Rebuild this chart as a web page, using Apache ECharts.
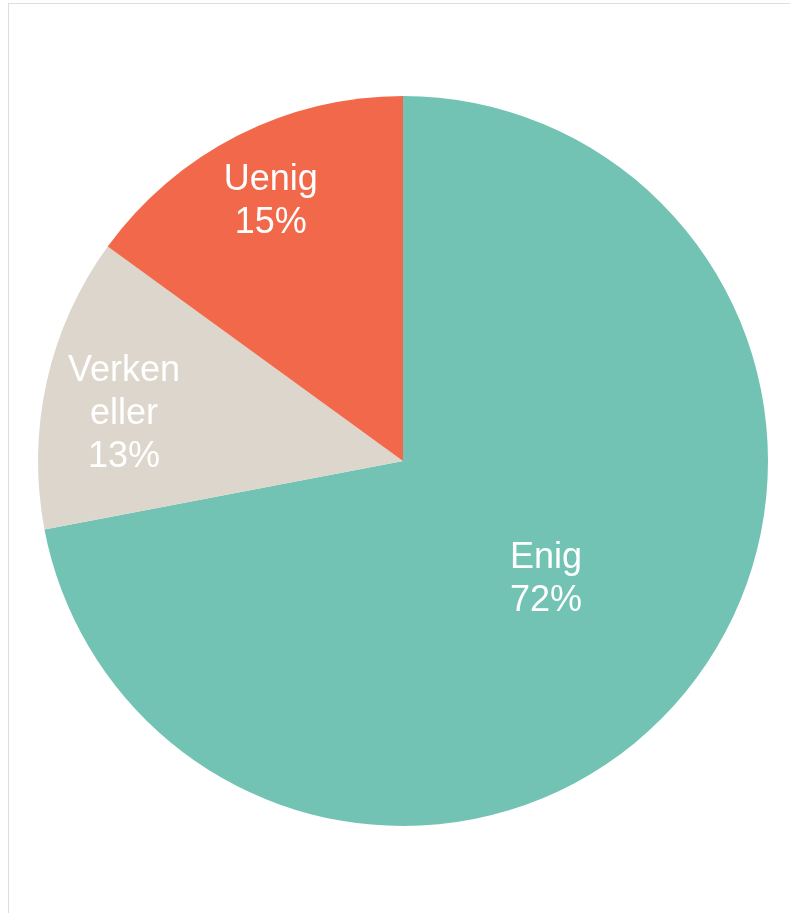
<!DOCTYPE html>
<html>
<head>
<meta charset="utf-8">
<script src="https://cdn.jsdelivr.net/npm/echarts@6/dist/echarts.min.js"></script>
<style>
  html, body { margin: 0; padding: 0; background: #fff; overflow: hidden; }
  #frame {
    position: absolute; left: 8px; top: 3px; width: 900px; height: 1000px;
    border-top: 1px solid #dedede; border-left: 1px solid #dedede;
  }
  #chart { position: absolute; left: 0; top: 0; width: 790px; height: 913px; }
</style>
</head>
<body>
<div id="frame"></div>
<div id="chart"></div>
<script>
// svar på påstanden
const categories = ["Enig", "Verken eller", "Uenig"];
const labelNames = ["Enig", "Verken\neller", "Uenig"];
const values = [72, 13, 15];
const colors = ["#72c3b4", "#ddd6cc", "#f1694a"];

const chart = echarts.init(document.getElementById("chart"));

const labelStyle = {
  color: "#ffffff",
  fontFamily: "Liberation Sans, Arial, sans-serif",
  fontSize: 36,
  lineHeight: 43,
  formatter: (p) => {
    const txt = labelNames[p.dataIndex] + "\n" + p.value + "%";
    // litt luft over teksten for "Verken eller" så den havner lavere
    return p.dataIndex === 1 ? "{s| }\n" + txt : txt;
  },
  rich: {
    s: { fontSize: 10, lineHeight: 34 },
  },
};

// hovedsirkel, etikett bare for største sektor (midt i)
const mainData = categories.map((name, i) => ({
  name: name,
  value: values[i],
  itemStyle: { color: colors[i] },
  label: { show: i === 0 },
}));

// usynlig ring som plasserer de små etikettene nærmere kanten
const ringData = categories.map((name, i) => ({
  name: name,
  value: values[i],
  itemStyle: { color: "rgba(0,0,0,0)" },
  label: i === 1 ? { show: true, padding: [0, 0, 0, 11] } : { show: i !== 0 },
}));

const option = {
  animation: false,
  series: [
    {
      type: "pie",
      center: [403, 461],
      radius: [0, 365],
      startAngle: 90,
      clockwise: true,
      silent: true,
      label: Object.assign({ position: "inside" }, labelStyle),
      labelLine: { show: false },
      itemStyle: { borderWidth: 0 },
      data: mainData,
    },
    {
      type: "pie",
      center: [403, 461],
      radius: [212, 365],
      startAngle: 90,
      clockwise: true,
      silent: true,
      label: Object.assign({ position: "inside" }, labelStyle),
      labelLine: { show: false },
      itemStyle: { borderWidth: 0 },
      data: ringData,
    },
  ],
};
chart.setOption(option, true);
</script>
</body>
</html>
